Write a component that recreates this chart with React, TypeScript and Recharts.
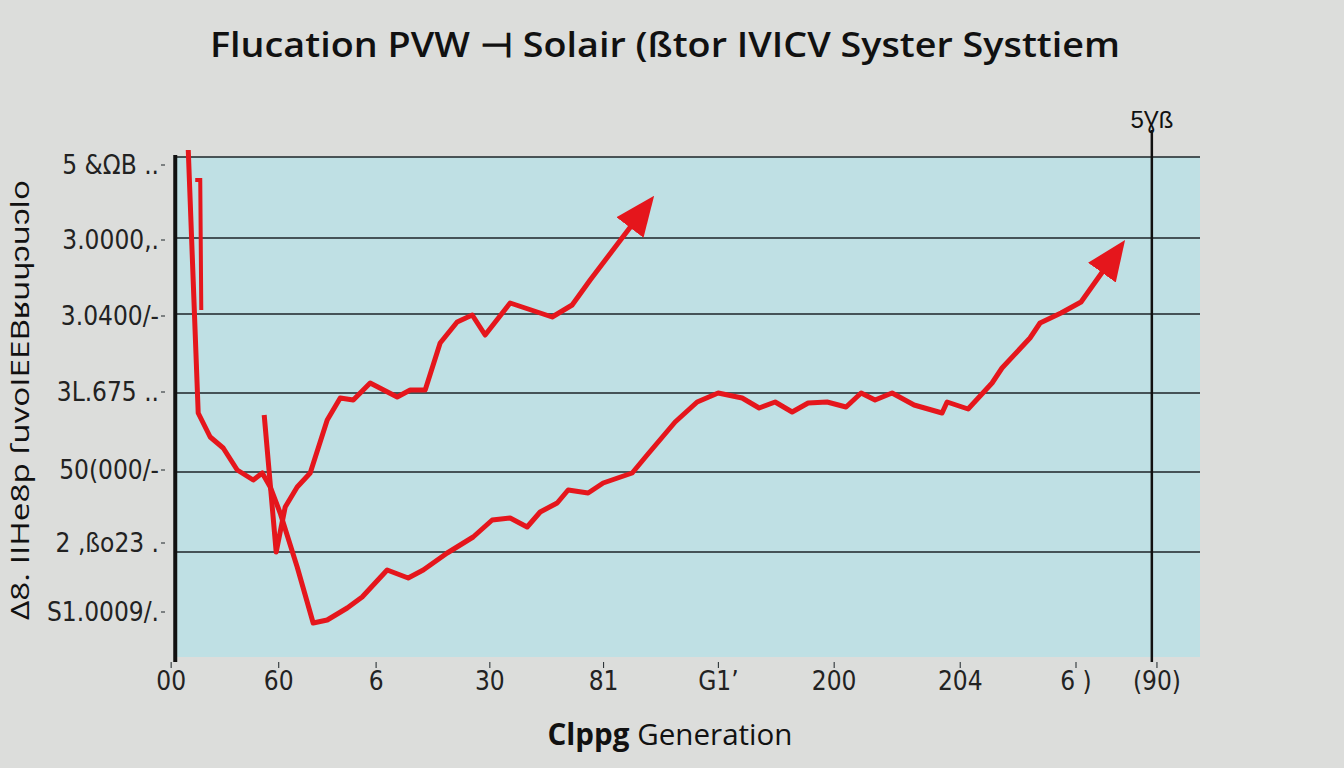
import React from 'react';
import { LineChart, Line, XAxis, YAxis, ReferenceLine, ReferenceArea } from 'recharts';

// x: 0..100 across the blue panel, y: 0..100 bottom to top gridline
const mainLine = [
  { x: 1.27, y: 101.4 }, { x: 2.24, y: 48.8 }, { x: 3.41, y: 44 }, { x: 4.68, y: 41.8 },
  { x: 6.05, y: 37.4 }, { x: 7.61, y: 35.4 }, { x: 8.49, y: 36.8 }, { x: 9.27, y: 34 },
  { x: 10.24, y: 28.8 }, { x: 11.9, y: 18 }, { x: 13.46, y: 6.8 }, { x: 14.83, y: 7.4 },
  { x: 16.78, y: 9.8 }, { x: 18.24, y: 12 }, { x: 20.68, y: 17.4 }, { x: 22.73, y: 15.8 },
  { x: 24.2, y: 17.4 }, { x: 26.54, y: 20.8 }, { x: 29.07, y: 24 }, { x: 30.93, y: 27.4 },
  { x: 32.68, y: 27.8 }, { x: 34.34, y: 26 }, { x: 35.61, y: 29 }, { x: 37.27, y: 30.8 },
  { x: 38.34, y: 33.4 }, { x: 40.29, y: 32.8 }, { x: 41.76, y: 34.8 }, { x: 44.59, y: 36.8 },
  { x: 46.05, y: 40.4 }, { x: 48.78, y: 47 }, { x: 50.93, y: 51 }, { x: 52.98, y: 52.8 },
  { x: 55.32, y: 51.8 }, { x: 56.98, y: 49.8 }, { x: 58.54, y: 51 }, { x: 60.2, y: 49 },
  { x: 61.76, y: 50.8 }, { x: 63.61, y: 51 }, { x: 65.46, y: 50 }, { x: 66.93, y: 52.8 },
  { x: 68.29, y: 51.4 }, { x: 69.95, y: 52.8 }, { x: 72.1, y: 50.4 }, { x: 74.83, y: 48.8 },
  { x: 75.32, y: 51 }, { x: 77.37, y: 49.6 }, { x: 79.71, y: 54.8 }, { x: 80.68, y: 57.8 },
  { x: 83.41, y: 63.8 }, { x: 84.39, y: 66.8 }, { x: 86.44, y: 68.8 }, { x: 88.39, y: 71 },
  { x: 90.54, y: 77.2 },
];

const upperLine = [
  { x: 8.68, y: 48.4 }, { x: 9.85, y: 21 }, { x: 10.73, y: 30 }, { x: 11.9, y: 34 },
  { x: 13.17, y: 36.8 }, { x: 14.83, y: 47.4 }, { x: 16.1, y: 51.8 }, { x: 17.37, y: 51.4 },
  { x: 19.02, y: 54.8 }, { x: 21.66, y: 52 }, { x: 22.93, y: 53.4 }, { x: 24.39, y: 53.4 },
  { x: 25.85, y: 62.8 }, { x: 27.51, y: 67 }, { x: 28.98, y: 68.4 }, { x: 30.24, y: 64.4 },
  { x: 32.68, y: 70.8 }, { x: 36.78, y: 68 }, { x: 38.73, y: 70.4 }, { x: 40.49, y: 75.4 },
  { x: 44.49, y: 86.2 },
];

const spikeLine = [
  { x: 1.95, y: 95.4 }, { x: 2.44, y: 95.4 }, { x: 2.54, y: 69.4 },
];

const gridValues = [100, 83.8, 68.6, 52.8, 37, 21];
const yTickValues = [98.4, 83.4, 68.2, 53, 37.4, 22.8, 9];
const yTickLabels = ['5 &ΩB ..', '3.0000,.', '3.0400/-', '3L.675 ..', '50(000/-', '2 ,ßo23 .', 'S1.0009/.'];
const xTickValues = [-0.4, 10.1, 19.6, 30.7, 41.8, 53, 64.3, 76.6, 87.9, 95.8];
const xTickLabels = ['00', '60', '6', '30', '81', "G1\u2019", '200', '204', '6 )', '(90)'];

const RED = '#e5161c';
const INK = '#1c2428';
const tickFont = {
  fontFamily: '"Liberation Sans Narrow", "DejaVu Sans Condensed", sans-serif',
  fontSize: 26,
  fill: '#222',
};

export default function App() {
  return (
    <div style={{ position: 'absolute', left: 0, top: 0, width: 1344, height: 768, background: '#dcdddb' }}>
      <svg width={0} height={0} style={{ position: 'absolute' }}>
        <defs>
          <marker id="arrowHead" markerUnits="userSpaceOnUse" markerWidth={40} markerHeight={40}
            viewBox="0 0 40 40" refX={2} refY={20} orient="auto">
            <path d="M0,3 L40,20 L0,37 Z" fill={RED} />
          </marker>
        </defs>
      </svg>
      <LineChart width={1344} height={768} margin={{ top: 127, right: 144, bottom: 66, left: 105 }}>
        <XAxis dataKey="x" type="number" domain={[-1, 100]} ticks={xTickValues} height={40}
          axisLine={false} tickSize={6} tickMargin={4} tick={tickFont} interval={0}
          tickLine={{ stroke: INK }} tickFormatter={(_v: number, i: number) => xTickLabels[i]} />
        <YAxis type="number" domain={[-1, 106]} ticks={yTickValues} width={60}
          axisLine={false} tickSize={4} tickMargin={2} tick={tickFont} interval={0}
          tickLine={{ stroke: INK }} tickFormatter={(_v: number, i: number) => yTickLabels[i]} />
        <ReferenceArea x1={0} x2={100} y1={0} y2={100} fill="#bfe0e4" fillOpacity={1} stroke="none" />
        {gridValues.map((v) => (
          <ReferenceLine key={v} segment={[{ x: 0, y: v }, { x: 100, y: v }]} stroke={INK} strokeWidth={1.5} />
        ))}
        <ReferenceLine segment={[{ x: 0, y: -1 }, { x: 0, y: 100.4 }]} stroke="#111" strokeWidth={4} ifOverflow="visible" />
        <ReferenceLine segment={[{ x: 95.3, y: -1 }, { x: 95.3, y: 105.4 }]} stroke="#111" strokeWidth={2.5} ifOverflow="visible" />
        <Line data={spikeLine} dataKey="y" stroke={RED} strokeWidth={4} dot={false} isAnimationActive={false} />
        <Line data={upperLine} dataKey="y" stroke={RED} strokeWidth={5} strokeLinejoin="round" dot={false}
          isAnimationActive={false} markerEnd="url(#arrowHead)" />
        <Line data={mainLine} dataKey="y" stroke={RED} strokeWidth={5} strokeLinejoin="round" dot={false}
          isAnimationActive={false} markerEnd="url(#arrowHead)" />
      </LineChart>
      <svg width={1344} height={768} style={{ position: 'absolute', left: 0, top: 0, pointerEvents: 'none' }}>
        <text x={665} y={57} textAnchor="middle" fontFamily='"Open Sans", sans-serif' fontWeight={600}
          fontSize={34} fill="#111" textLength={910} lengthAdjust="spacingAndGlyphs">
          Flucation PVW  ⊣  Solair (ßtor IVICV Syster Systtiem
        </text>
        <text transform="translate(29,400) rotate(-90)" textAnchor="middle" fontFamily='"Open Sans", sans-serif'
          fontSize={26} fill="#111" textLength={440} lengthAdjust="spacingAndGlyphs">
          Δ8. IIHe8p ſuvoIEEBʁuɥɔuɔlo
        </text>
        <text x={1152} y={128} textAnchor="middle" fontFamily='"Liberation Sans Narrow", sans-serif' fontSize={24} fill="#111">
          5Ɣß
        </text>
        <text x={670} y={745} textAnchor="middle" fontFamily='"Open Sans", sans-serif' fontSize={30} fill="#111"
          textLength={245} lengthAdjust="spacingAndGlyphs">
          <tspan fontWeight={700}>Clppg</tspan> Generation
        </text>
      </svg>
    </div>
  );
}
